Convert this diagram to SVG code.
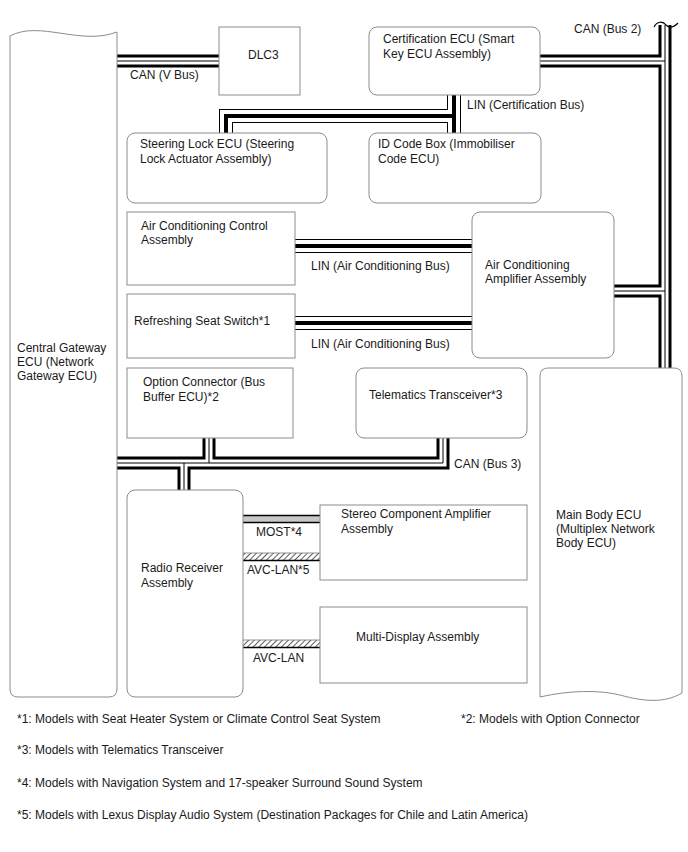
<svg xmlns="http://www.w3.org/2000/svg" width="688" height="852" viewBox="0 0 688 852">
<defs>
<style>
.box{fill:#fff;stroke:#8c8c8c;stroke-width:1}
.t{font-family:"Liberation Sans",Arial,sans-serif;font-size:12px;fill:#1a1a1a}
.co{fill:none;stroke:#000;stroke-width:13}
.cw{fill:none;stroke:#fff;stroke-width:7}
.ci{fill:none;stroke:#000;stroke-width:1}
.lo{fill:none;stroke:#000;stroke-width:14}
.lw{fill:none;stroke:#fff;stroke-width:12}
.li{fill:none;stroke:#000;stroke-width:4}
</style>
<pattern id="hatch" width="4" height="4" patternUnits="userSpaceOnUse" patternTransform="rotate(45)">
<rect width="4" height="4" fill="#fff"/>
<line x1="0" y1="0" x2="0" y2="4" stroke="#000" stroke-width="1.3"/>
</pattern>
</defs>
<rect width="688" height="852" fill="#fff"/>

<g id="connectors">
<!-- CAN buses -->
<path class="co" d="M117,61H219"/>
<path class="co" d="M540,61H665M614,291H665M665,25V368"/>
<path class="co" d="M117,463H443V438M209,438V463M184,463V490"/>
<path class="cw" d="M117,61H219"/>
<path class="cw" d="M540,61H665M614,291H665M665,25V368"/>
<path class="cw" d="M117,463H443V438M209,438V463M184,463V490"/>
<path class="ci" d="M117,61H219"/>
<path class="ci" d="M540,61H665M614,291H665M665,25V368"/>
<path class="ci" d="M117,463H443V438M209,438V463M184,463V490"/>
<path d="M654,27C657,21 663,21 666,25C670,29 674,27 678,23" fill="none" stroke="#000" stroke-width="1.2"/>
<!-- LIN buses -->
<path class="lo" d="M454,95V133M454,116H226V133M295,246H472M295,323H472"/>
<path class="lw" d="M454,95V133M454,116H226V133M295,246H472M295,323H472"/>
<path class="li" d="M454,95V133M454,116H226V133M295,246H472M295,323H472"/>
<!-- MOST -->
<rect x="243" y="515" width="77" height="8" fill="#c8c8c8"/>
<path d="M243,515.5H320M243,522.5H320" stroke="#000" stroke-width="1.4"/>
<!-- AVC-LAN*5 -->
<rect x="243" y="553" width="77" height="7" fill="url(#hatch)"/>
<path d="M243,553H320" stroke="#777" stroke-width="0.8"/>
<path d="M243,560.5H320" stroke="#000" stroke-width="1.5"/>
<!-- AVC-LAN -->
<rect x="243" y="640" width="77" height="7" fill="url(#hatch)"/>
<path d="M243,640H320" stroke="#777" stroke-width="0.8"/>
<path d="M243,647.5H320" stroke="#000" stroke-width="1.5"/>
<text class="t" x="130" y="79">CAN (V Bus)</text>
<text class="t" x="574" y="33">CAN (Bus 2)</text>
<text class="t" x="467" y="109">LIN (Certification Bus)</text>
<text class="t" x="311" y="270">LIN (Air Conditioning Bus)</text>
<text class="t" x="311" y="348">LIN (Air Conditioning Bus)</text>
<text class="t" x="454" y="468">CAN (Bus 3)</text>
<text class="t" x="256" y="536">MOST*4</text>
<text class="t" x="247" y="574">AVC-LAN*5</text>
<text class="t" x="253" y="662">AVC-LAN</text>
</g>

<g id="central-gateway">
<path class="box" d="M10,36C40,20 80,46 117,32V689Q117,697 109,697H18Q10,697 10,689Z"/>
<text class="t" x="17" y="352">Central Gateway</text>
<text class="t" x="17" y="366">ECU (Network</text>
<text class="t" x="17" y="380">Gateway ECU)</text>
</g>
<g id="dlc3">
<rect class="box" x="219" y="27" width="81" height="68"/>
<text class="t" x="248" y="59">DLC3</text>
</g>
<g id="certification-ecu">
<rect class="box" x="369" y="27" width="171" height="68" rx="8"/>
<text class="t" x="383" y="43">Certification ECU (Smart</text>
<text class="t" x="383" y="58">Key ECU Assembly)</text>
</g>
<g id="steering-lock-ecu">
<rect class="box" x="127" y="133" width="200" height="70" rx="8"/>
<text class="t" x="140" y="148">Steering Lock ECU (Steering</text>
<text class="t" x="140" y="163">Lock Actuator Assembly)</text>
</g>
<g id="id-code-box">
<rect class="box" x="369" y="133" width="172" height="70" rx="8"/>
<text class="t" x="378" y="148">ID Code Box (Immobiliser</text>
<text class="t" x="378" y="163">Code ECU)</text>
</g>
<g id="ac-control">
<rect class="box" x="127" y="212" width="168" height="73"/>
<text class="t" x="141" y="230">Air Conditioning Control</text>
<text class="t" x="141" y="244">Assembly</text>
</g>
<g id="refreshing-seat-switch">
<rect class="box" x="127" y="294" width="168" height="64"/>
<text class="t" x="134" y="325">Refreshing Seat Switch*1</text>
</g>
<g id="ac-amplifier">
<rect class="box" x="472" y="212" width="142" height="146" rx="8"/>
<text class="t" x="485" y="269">Air Conditioning</text>
<text class="t" x="485" y="283">Amplifier Assembly</text>
</g>
<g id="option-connector">
<rect class="box" x="127" y="368" width="166" height="70"/>
<text class="t" x="143" y="386">Option Connector (Bus</text>
<text class="t" x="143" y="401">Buffer ECU)*2</text>
</g>
<g id="telematics">
<rect class="box" x="356" y="368" width="171" height="70" rx="8"/>
<text class="t" x="369" y="399">Telematics Transceiver*3</text>
</g>
<g id="main-body-ecu">
<path class="box" d="M540,697V376Q540,368 548,368H674Q682,368 682,376V693C665,703 645,702 620,695C600,690 570,690 540,697Z"/>
<text class="t" x="556" y="519">Main Body ECU</text>
<text class="t" x="556" y="533">(Multiplex Network</text>
<text class="t" x="556" y="547">Body ECU)</text>
</g>
<g id="radio-receiver">
<rect class="box" x="127" y="490" width="116" height="207" rx="8"/>
<text class="t" x="141" y="572">Radio Receiver</text>
<text class="t" x="141" y="587">Assembly</text>
</g>
<g id="stereo-amplifier">
<rect class="box" x="320" y="505" width="207" height="75"/>
<text class="t" x="341" y="518">Stereo Component Amplifier</text>
<text class="t" x="341" y="533">Assembly</text>
</g>
<g id="multi-display">
<rect class="box" x="320" y="607" width="207" height="76"/>
<text class="t" x="356" y="641">Multi-Display Assembly</text>
</g>

<g id="notes">
<text class="t" x="17" y="723">*1: Models with Seat Heater System or Climate Control Seat System</text>
<text class="t" x="461" y="723">*2: Models with Option Connector</text>
<text class="t" x="17" y="754">*3: Models with Telematics Transceiver</text>
<text class="t" x="17" y="787">*4: Models with Navigation System and 17-speaker Surround Sound System</text>
<text class="t" x="17" y="819">*5: Models with Lexus Display Audio System (Destination Packages for Chile and Latin America)</text>
</g>
</svg>
